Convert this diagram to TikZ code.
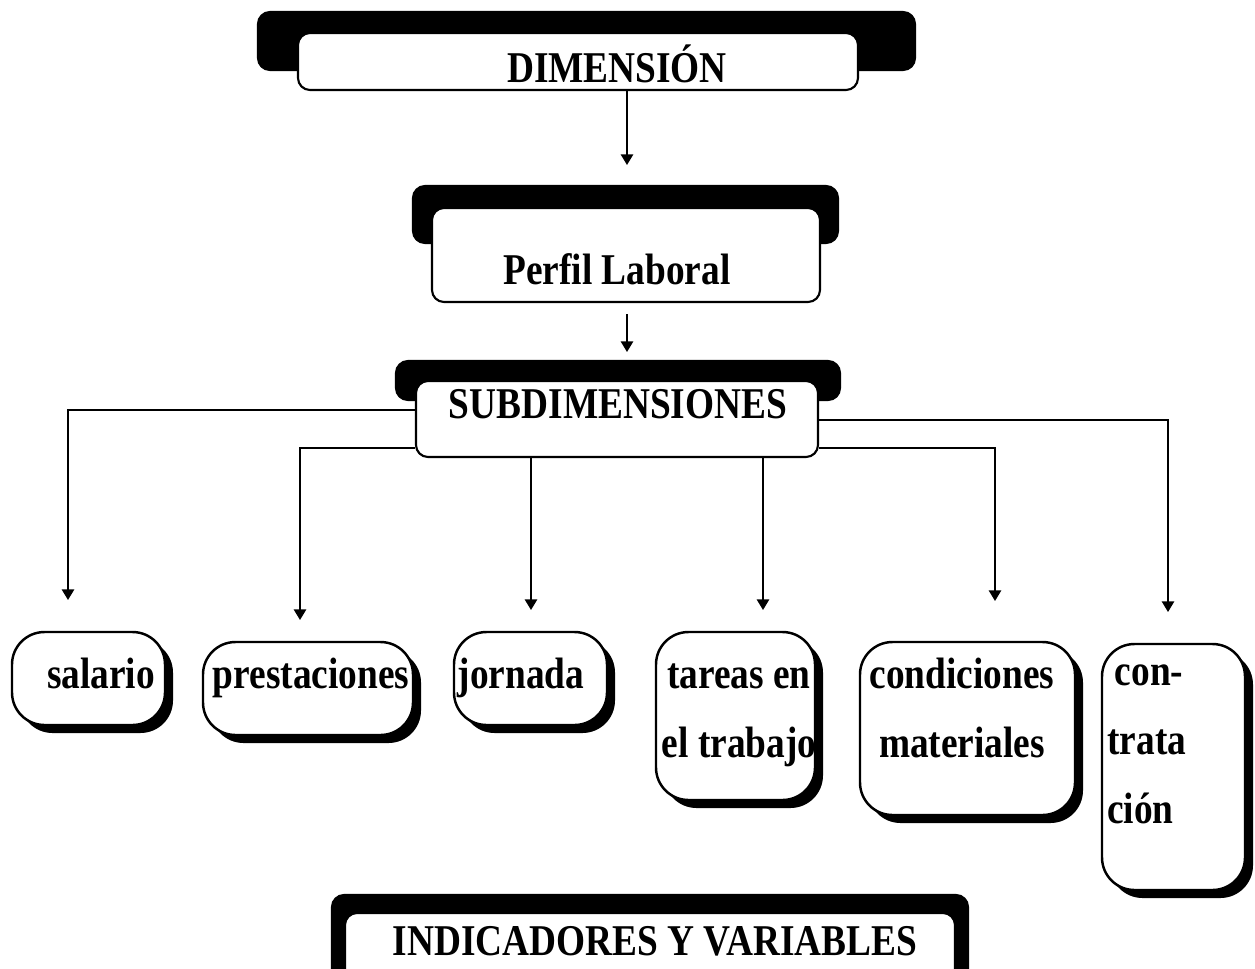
\documentclass[tikz,border=0pt]{standalone}
\usepackage{fontspec}
\newfontfamily\cajafont{Liberation Serif}[FakeStretch=0.85]
\usetikzlibrary{arrows.meta,shadows}
\newcommand{\pix}{0.02cm}
% caja de subdimension: nombre, x, y, ancho, alto
\newcommand{\caja}[5]{
\node [subcaja,minimum width=#4*\pix,minimum height=#5*\pix] (#1) at (#2,#3) {};
}
\tikzset{
  fondo/.style={fill=black,draw=black,rounded corners=0.24cm,line width=1.2pt},
  titulo/.style={fill=white,draw=black,rounded corners=0.24cm,line width=1.2pt},
  subcaja/.style={fill=white,draw=black,rounded corners=0.65cm,line width=1.4pt,
    drop shadow={shadow xshift=0.16cm,shadow yshift=-0.16cm,fill=black,opacity=1}},
  texto/.style={font=\cajafont\fontsize{25}{39}\selectfont\bfseries,inner sep=0pt,anchor=base},
  flecha/.style={line width=0.8pt,-{Triangle[width=7pt,length=6pt]}}
}
\begin{document}
\begin{tikzpicture}[x=0.02cm,y=-0.02cm]
\useasboundingbox (0,0) rectangle (1255,968);
\clip (0,0) rectangle (1255,968);
\fill[white] (0,0) rectangle (1255,968);

\node [fondo,minimum width=657*\pix,minimum height=58*\pix] (dim-f) at (586.5,41) {};
\node [titulo,minimum width=560*\pix,minimum height=57*\pix] (dim) at (578,61.5) {};
\node [texto] (dim-t) at (617,82) {DIMENSIÓN};

\node [fondo,minimum width=425*\pix,minimum height=57*\pix] (perfil-f) at (625.5,214.5) {};
\node [titulo,minimum width=388*\pix,minimum height=94*\pix] (perfil) at (626,255) {};
\node [texto] (perfil-t) at (617,284) {Perfil Laboral};

\node [fondo,minimum width=444*\pix,minimum height=39*\pix] (sub-f) at (618,380.5) {};
\node [titulo,minimum width=402*\pix,minimum height=76*\pix] (sub) at (617,419) {};
\node [texto] (sub-t) at (618,418) {SUBDIMENSIONES};

\caja{salario}{88.5}{678.5}{153}{93}
\caja{prest}{308}{688.5}{210}{93}
\caja{jornada}{530.5}{678.5}{153}{93}
\caja{tareas}{735.5}{716}{159}{168}
\caja{cond}{967.5}{728.5}{215}{173}
\caja{contr}{1173.5}{767}{143}{246}

\node [texto] (salario-t) at (101,688) {salario};
\node [texto] (prest-t) at (311,688) {prestaciones};
\node [texto] (jornada-t) at (521,688) {jornada};
\node [texto,align=center] (tareas-t) at (739,757) {tareas en\\el trabajo};
\node [texto,align=center] (cond-t) at (962,757) {condiciones\\materiales};
\node [texto,align=left,anchor=base west] (contr-t) at (1107,823) {\hspace{0.15cm}con-\\trata\\ción};

\node [fondo,minimum width=636*\pix,minimum height=112*\pix] (ind-f) at (650,951) {};
\node [titulo,minimum width=610*\pix,minimum height=94*\pix] (ind) at (650,960) {};
\node [texto] (ind-t) at (655,955) {INDICADORES Y VARIABLES};

\coordinate (p1) at (627,165);
\coordinate (p2) at (627,314);
\coordinate (p3) at (627,352);
\draw [flecha] (dim.south -| p1) -- (p1);
\draw [flecha] (p2) -- (p3);

\coordinate (a1) at (68,600);
\coordinate (a2) at (300,620);
\coordinate (a3) at (531,610);
\coordinate (a4) at (763,610);
\coordinate (a5) at (995,601);
\coordinate (a6) at (1168,612);
\draw [flecha] (sub.west |- 0,410) -| (a1);
\draw [flecha] (sub.west |- 0,448) -| (a2);
\draw [flecha] (sub.south -| a3) -- (a3);
\draw [flecha] (sub.south -| a4) -- (a4);
\draw [flecha] (sub.east |- 0,448) -| (a5);
\draw [flecha] (sub.east |- 0,420) -| (a6);
\end{tikzpicture}
\end{document}
